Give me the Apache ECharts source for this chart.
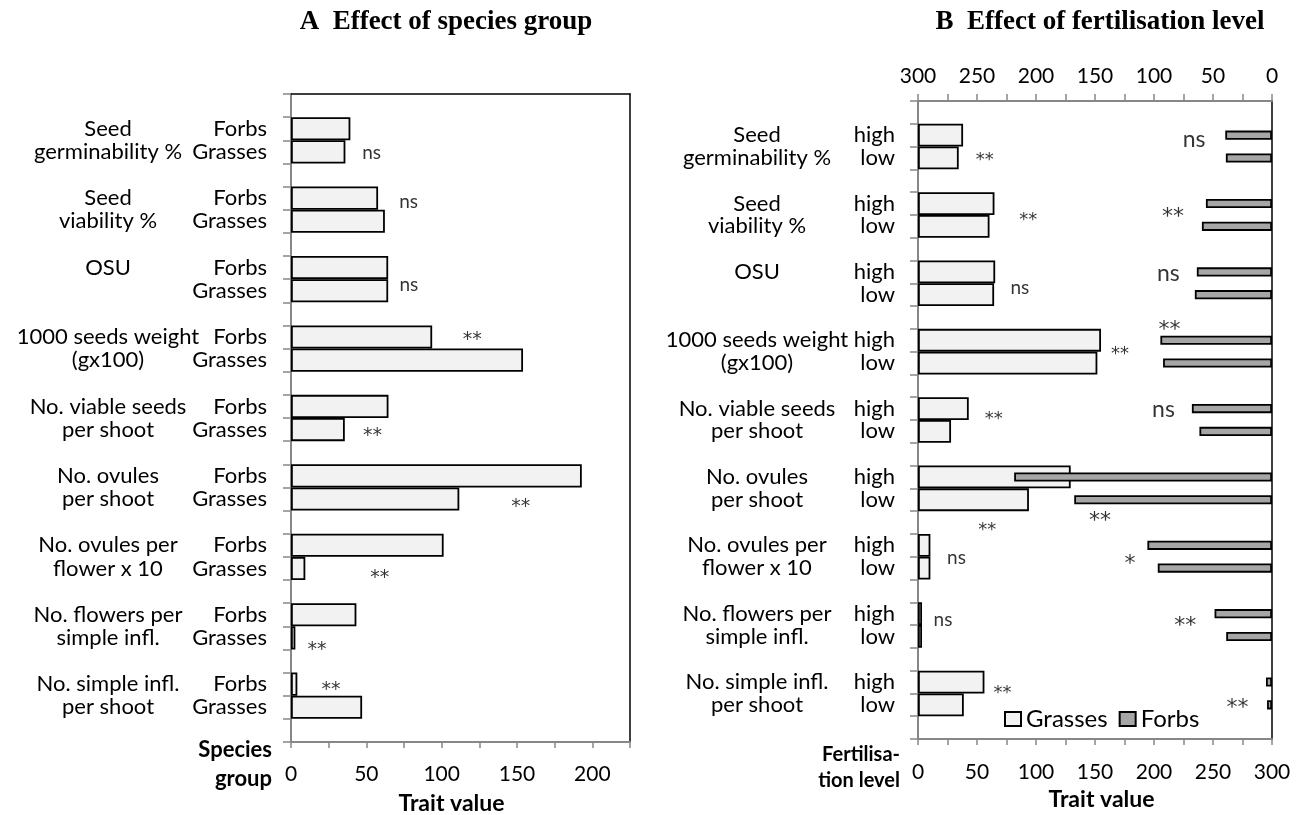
<!DOCTYPE html>
<html>
<head>
<meta charset="utf-8">
<script src="https://cdn.jsdelivr.net/npm/echarts@6/dist/echarts.min.js"></script>
<style>
html,body{margin:0;padding:0;background:#fff;}
#chart{width:1306px;height:815px;}
</style>
</head>
<body>
<div id="chart"></div>
<script>
// ---------- data ----------
const traitLine1 = ['Seed', 'Seed', 'OSU', '1000 seeds weight', 'No. viable seeds', 'No. ovules', 'No. ovules per', 'No. flowers per', 'No. simple infl.'];
const traitLine2 = ['germinability %', 'viability %', '', '(gx100)', 'per shoot', 'per shoot', 'flower x 10', 'simple infl.', 'per shoot'];
const speciesRows = ['Forbs', 'Grasses'];
const fertRows = ['high', 'low'];

// Panel A: effect of species group
const aForbs   = [39.4, 57.8, 64.5, 93.7, 64.7, 193.0, 101.3, 43.4, 4.2];
const aGrasses = [36.1, 62.3, 64.5, 154.0, 35.7, 111.7, 9.5, 2.9, 47.2];
const aAnnotText = ['ns', 'ns', 'ns', '**', '**', '**', '**', '**', '**'];
const aAnnotX    = [53.5, 78.1, 78.2, 120.3, 54.1, 152.5, 58.9, 17.3, 26.6];
const aAnnotSlot = [2.54, 4.65, 8.25, 10.41, 14.57, 17.62, 20.72, 23.82, 25.55];

// Panel B: effect of fertilisation level
const bGrassHigh = [38.2, 64.8, 65.4, 155.1, 43.0, 129.4, 10.5, 3.4, 56.3];
const bGrassLow  = [34.5, 60.6, 64.5, 152.0, 28.0, 94.0, 10.5, 3.4, 38.8];
const bForbHigh  = [39.6, 56.0, 63.7, 94.6, 67.9, 218.5, 105.6, 48.7, 5.1];
const bForbLow   = [39.1, 59.4, 65.4, 92.3, 61.5, 167.6, 96.8, 38.8, 4.2];
const bGrassAnnotText = ['**', '**', 'ns', '**', '**', '**', 'ns', 'ns', '**'];
const bGrassAnnotX    = [56.6, 93.4, 86.3, 171.2, 64.3, 58.6, 32.6, 21.2, 71.6];
const bGrassAnnotSlot = [2.37, 5.0, 8.22, 10.92, 13.77, 18.64, 20.06, 22.76, 25.76];
const bForbAnnotText  = ['ns', '**', 'ns', '**', 'ns', '**', '*', '**', '**'];
const bForbAnnotX     = [66.0, 84.0, 87.8, 86.9, 92.0, 145.8, 120.3, 73.6, 29.2];
const bForbAnnotSlot  = [1.71, 4.85, 7.56, 9.82, 13.55, 18.2, 20.06, 22.8, 26.37];

const aTicks = [0, 50, 100, 150, 200];
const bTicks = [0, 50, 100, 150, 200, 250, 300];

// ---------- helpers ----------
const NS = traitLine1.length * 3 + 1;
const slotIds = Array.from({length: NS}, (_, i) => 's' + i);
function slotArr(vals, off) {
  const a = new Array(NS).fill(null);
  vals.forEach((v, k) => { a[3 * k + off] = v; });
  return a;
}
function mergeSlots(a, b) { return a.map((v, i) => v !== null ? v : b[i]); }
function slotLabel(idx, rows) {
  const k = Math.floor(idx / 3), r = idx % 3;
  if (k >= traitLine1.length || r === 0) return '';
  const t = (r === 1 ? traitLine1[k] : traitLine2[k]) || ' ';
  return '{t|' + t + '}{s|' + rows[r - 1] + '}';
}

const FONT = 'Lato, "Open Sans", sans-serif';
const STAR_FONT = '"DejaVu Sans", sans-serif';
const GRAY = '#878787';
const LIGHT = '#f2f2f2';
const DARK = '#a6a6a6';

function annot(texts, xs, ys, nsSize, starSize) {
  return texts.map((t, i) => {
    const star = t.indexOf('*') >= 0;
    return {
      name: t, value: [xs[i], ys[i]],
      label: star
        ? {fontFamily: STAR_FONT, fontSize: starSize, offset: [0, Math.round(starSize * 0.27)]}
        : {fontFamily: FONT, fontSize: nsSize, offset: [0, 0]}
    };
  });
}

const barStyle = (c) => ({color: c, borderColor: '#000', borderWidth: 1.8});

function valueAxisBottom(grid, max, ticks, margin, nameGap, namePad) {
  return {
    gridIndex: grid, type: 'value', position: 'bottom', min: 0, max: max, interval: 25,
    axisLine: {show: true, onZero: false, lineStyle: {color: GRAY, width: 2}},
    axisTick: {show: true, length: 6, lineStyle: {color: GRAY, width: 1.5}},
    axisLabel: {margin: margin, fontFamily: FONT, fontSize: 21, color: '#000',
      formatter: v => ticks.indexOf(v) >= 0 ? String(v) : ''},
    splitLine: {show: false},
    name: 'Trait value', nameLocation: 'middle', nameGap: nameGap,
    nameTextStyle: {fontFamily: FONT, fontSize: 23, fontWeight: 'bold', color: '#000', padding: namePad}
  };
}
function catAxis(grid, rows, tW, sW, margin) {
  return {
    gridIndex: grid, type: 'category', inverse: true, position: 'left', data: slotIds,
    axisLine: {show: true, onZero: false, lineStyle: {color: GRAY, width: 2}},
    axisTick: {show: true, interval: 0, length: 8, lineStyle: {color: GRAY, width: 1.5}},
    axisLabel: {
      interval: 0, margin: margin, color: '#000',
      formatter: (v, i) => slotLabel(i, rows),
      rich: {
        t: {width: tW, align: 'center', fontFamily: FONT, fontSize: 22, color: '#000'},
        s: {width: sW, align: 'right', fontFamily: FONT, fontSize: 22, color: '#000'}
      }
    },
    splitLine: {show: false}
  };
}
function annotSeries(name, xi, yi, data) {
  return {
    name: name, type: 'scatter', xAxisIndex: xi, yAxisIndex: yi, silent: true,
    symbolSize: 1, itemStyle: {color: 'rgba(0,0,0,0)'},
    label: {show: true, position: 'inside', formatter: p => p.name, color: '#000'},
    data: data, z: 5
  };
}

const option = {
  animation: false,
  backgroundColor: '#fff',
  grid: [
    {left: 291, top: 94, width: 339, height: 648, outerBoundsMode: 'none', containLabel: false},
    {left: 918, top: 101, width: 354, height: 638, outerBoundsMode: 'none', containLabel: false}
  ],
  xAxis: [
    valueAxisBottom(0, 225, aTicks, 22, 50, [0, 18, 0, 0]),
    {gridIndex: 0, type: 'value', position: 'top', min: 0, max: 225,
      axisLine: {show: true, onZero: false, lineStyle: {color: '#000', width: 1.5}},
      axisTick: {show: false}, axisLabel: {show: false}, splitLine: {show: false}},
    valueAxisBottom(1, 300, bTicks, 23, 47, [0, 0, 0, 13]),
    {gridIndex: 1, type: 'value', position: 'top', inverse: true, min: 0, max: 300, interval: 25,
      axisLine: {show: true, onZero: false, lineStyle: {color: GRAY, width: 2}},
      axisTick: {show: true, length: 7, lineStyle: {color: GRAY, width: 1.5}},
      axisLabel: {margin: 14, fontFamily: FONT, fontSize: 21, color: '#000',
        formatter: v => bTicks.indexOf(v) >= 0 ? String(v) : ''},
      splitLine: {show: false}}
  ],
  yAxis: [
    catAxis(0, speciesRows, 170, 74, 24),
    {gridIndex: 0, type: 'value', position: 'right', min: 0, max: NS, inverse: true,
      axisLine: {show: true, onZero: false, lineStyle: {color: '#000', width: 1.5}},
      axisTick: {show: false}, axisLabel: {show: false}, splitLine: {show: false}},
    catAxis(1, fertRows, 176, 50, 23),
    {gridIndex: 1, type: 'category', inverse: true, position: 'right', data: slotIds,
      axisLine: {show: true, onZero: false, lineStyle: {color: '#000', width: 1.5}},
      axisTick: {show: false}, axisLabel: {show: false}, splitLine: {show: false}},
    {gridIndex: 1, type: 'value', show: false, min: 0, max: NS, inverse: true,
      axisLine: {onZero: false}}
  ],
  legend: {
    data: ['Grasses', 'Forbs'], left: 999, top: 702, icon: 'rect',
    itemWidth: 16, itemHeight: 14, itemGap: 11,
    textStyle: {fontFamily: FONT, fontSize: 24, color: '#000'}
  },
  graphic: [
    {type: 'text', style: {text: 'A  Effect of species group', x: 446, y: 22,
      align: 'center', verticalAlign: 'middle', font: 'bold 27px "Liberation Serif", "Times New Roman", serif', fill: '#000'}},
    {type: 'text', style: {text: 'B  Effect of fertilisation level', x: 1100, y: 22,
      align: 'center', verticalAlign: 'middle', font: 'bold 27px "Liberation Serif", "Times New Roman", serif', fill: '#000'}},
    {type: 'text', style: {text: 'Species\ngroup', x: 272, y: 764, align: 'right', verticalAlign: 'middle',
      font: 'bold 22px ' + FONT, lineHeight: 29, fill: '#000'}},
    {type: 'text', style: {text: 'Fertilisa-\ntion level', x: 900, y: 768, align: 'right', verticalAlign: 'middle',
      font: 'bold 20px ' + FONT, lineHeight: 26, fill: '#000'}}
  ],
  series: [
    {name: 'Forbs (A)', type: 'bar', xAxisIndex: 0, yAxisIndex: 0, barWidth: '100%', barGap: '-100%',
      itemStyle: barStyle(LIGHT), data: slotArr(aForbs, 1)},
    {name: 'Grasses (A)', type: 'bar', xAxisIndex: 0, yAxisIndex: 0, barWidth: '100%', barGap: '-100%',
      itemStyle: barStyle(LIGHT), data: slotArr(aGrasses, 2)},
    {name: 'Grasses', type: 'bar', xAxisIndex: 2, yAxisIndex: 2, barWidth: '100%',
      itemStyle: barStyle(LIGHT), data: mergeSlots(slotArr(bGrassHigh, 1), slotArr(bGrassLow, 2))},
    {name: 'Forbs', type: 'bar', xAxisIndex: 3, yAxisIndex: 3, barWidth: '40%',
      itemStyle: barStyle(DARK), data: mergeSlots(slotArr(bForbHigh, 1), slotArr(bForbLow, 2))},
    annotSeries('annA', 0, 1, annot(aAnnotText, aAnnotX, aAnnotSlot, 19, 19)),
    annotSeries('annBG', 2, 4, annot(bGrassAnnotText, bGrassAnnotX, bGrassAnnotSlot, 19, 18)),
    annotSeries('annBF', 3, 4, annot(bForbAnnotText, bForbAnnotX, bForbAnnotSlot, 23, 22))
  ]
};

const chart = echarts.init(document.getElementById('chart'), null, {renderer: 'canvas'});
chart.setOption(option);
</script>
</body>
</html>
